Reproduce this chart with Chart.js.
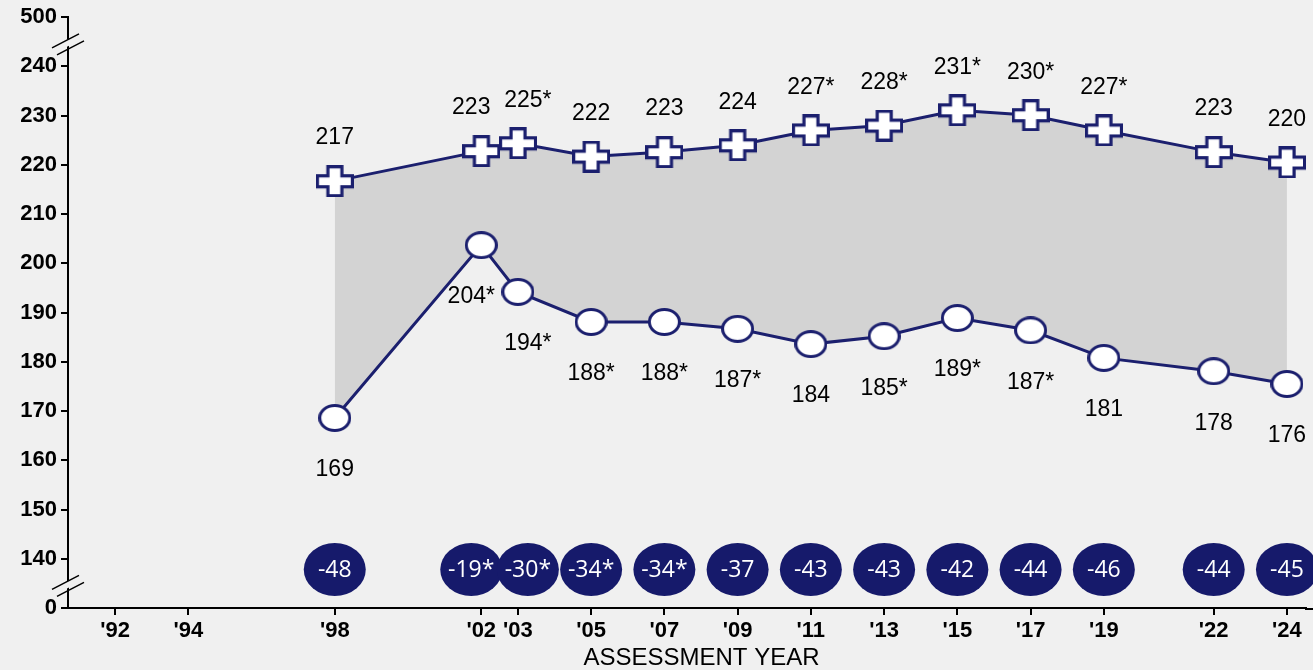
<!DOCTYPE html>
<html>
<head>
<meta charset="utf-8">
<script src="https://cdn.jsdelivr.net/npm/chart.js@4.4.1/dist/chart.umd.min.js"></script>
<style>
  html, body { margin: 0; padding: 0; background: #f0f0f0; }
</style>
</head>
<body>
<canvas id="chart" width="1313" height="670"></canvas>
<script>
// Assessment years with data and the years shown on the x axis
const years = [1998, 2002, 2003, 2005, 2007, 2009, 2011, 2013, 2015, 2017, 2019, 2022, 2024];
const tickYears = [1992, 1994, 1998, 2002, 2003, 2005, 2007, 2009, 2011, 2013, 2015, 2017, 2019, 2022, 2024];

// Plotted scores and their printed labels
const upperScores = [216.7, 222.8, 224.4, 221.7, 222.6, 224.0, 227.0, 228.0, 231.1, 230.1, 227.0, 222.6, 220.5];
const lowerScores = [168.6, 203.7, 194.2, 188.1, 188.1, 186.7, 183.6, 185.2, 188.9, 186.4, 180.8, 178.1, 175.5];
const upperLabels = ['217', '223', '225*', '222', '223', '224', '227*', '228*', '231*', '230*', '227*', '223', '220'];
const lowerLabels = ['169', '204*', '194*', '188*', '188*', '187*', '184', '185*', '189*', '187*', '181', '178', '176'];

// Score gaps shown in the bubbles along the bottom
const gapLabels = ['-48', '-19*', '-30*', '-34*', '-34*', '-37', '-43', '-43', '-42', '-44', '-46', '-44', '-45'];

const NAVY = '#1b1f6e';
const BUBBLE = '#161a6b';
const FILL = '#d3d3d3';
const BG = '#f0f0f0';

// Build a thick plus marker as an image
function makePlus(w, h, vArm, hArm, lw) {
  const c = document.createElement('canvas');
  c.width = w + lw;
  c.height = h + lw;
  const ctx = c.getContext('2d');
  const x0 = lw / 2, y0 = lw / 2;
  const cx = x0 + w / 2, cy = y0 + h / 2;
  ctx.beginPath();
  ctx.moveTo(cx - vArm / 2, y0);
  ctx.lineTo(cx + vArm / 2, y0);
  ctx.lineTo(cx + vArm / 2, cy - hArm / 2);
  ctx.lineTo(x0 + w, cy - hArm / 2);
  ctx.lineTo(x0 + w, cy + hArm / 2);
  ctx.lineTo(cx + vArm / 2, cy + hArm / 2);
  ctx.lineTo(cx + vArm / 2, y0 + h);
  ctx.lineTo(cx - vArm / 2, y0 + h);
  ctx.lineTo(cx - vArm / 2, cy + hArm / 2);
  ctx.lineTo(x0, cy + hArm / 2);
  ctx.lineTo(x0, cy - hArm / 2);
  ctx.lineTo(cx - vArm / 2, cy - hArm / 2);
  ctx.closePath();
  ctx.fillStyle = '#fff';
  ctx.fill();
  ctx.lineWidth = lw;
  ctx.strokeStyle = NAVY;
  ctx.stroke();
  return c;
}

// Build an oval marker as an image
function makeOval(w, h, lw) {
  const c = document.createElement('canvas');
  c.width = w + lw;
  c.height = h + lw;
  const ctx = c.getContext('2d');
  ctx.beginPath();
  ctx.ellipse(c.width / 2, c.height / 2, w / 2, h / 2, 0, 0, Math.PI * 2);
  ctx.fillStyle = '#fff';
  ctx.fill();
  ctx.lineWidth = lw;
  ctx.strokeStyle = NAVY;
  ctx.stroke();
  return c;
}

const plusImg = makePlus(35, 29, 14, 11, 3.2);
const ovalImg = makeOval(30, 25, 3);

// nudge the crowded 2002/2003 labels apart
const nudge = { 2002: -10, 2003: 10 };

// Labels, gap bubbles, axis title and axis breaks
const annotations = {
  id: 'annotations',
  afterDatasetsDraw(chart) {
    const ctx = chart.ctx;
    const xs = chart.scales.x;
    const ys = chart.scales.y;
    ctx.save();
    ctx.textAlign = 'center';
    ctx.textBaseline = 'middle';
    ctx.font = '23px "Liberation Sans", Arial, sans-serif';
    ctx.fillStyle = '#000';
    years.forEach((yr, i) => {
      const x = xs.getPixelForValue(yr) + (nudge[yr] || 0);
      ctx.fillText(upperLabels[i], x, ys.getPixelForValue(upperScores[i]) - 43);
      ctx.fillText(lowerLabels[i], x, ys.getPixelForValue(lowerScores[i]) + 52);
    });

    // gap bubbles
    const by = ys.getPixelForValue(137.8);
    years.forEach((yr, i) => {
      const x = xs.getPixelForValue(yr) + (nudge[yr] || 0);
      ctx.beginPath();
      ctx.ellipse(x, by, 31, 26.5, 0, 0, Math.PI * 2);
      ctx.fillStyle = BUBBLE;
      ctx.fill();
    });
    ctx.fillStyle = '#fff';
    ctx.font = '23px "Open Sans", "Liberation Sans", sans-serif';
    years.forEach((yr, i) => {
      ctx.fillText(gapLabels[i], xs.getPixelForValue(yr) + (nudge[yr] || 0), by + 1);
    });

    // x axis title
    ctx.fillStyle = '#000';
    ctx.font = '24px "Liberation Sans", Arial, sans-serif';
    ctx.fillText('ASSESSMENT YEAR', (chart.chartArea.left + chart.width) / 2 + 11, chart.chartArea.bottom + 50);
    ctx.restore();
  },
  afterDraw(chart) {
    const ctx = chart.ctx;
    const ys = chart.scales.y;
    const area = chart.chartArea;
    const ax = area.left;
    ctx.save();
    // run the x axis line out to the right edge
    ctx.strokeStyle = '#000';
    ctx.lineWidth = 2;
    ctx.beginPath();
    ctx.moveTo(area.right - 1, area.bottom + 1);
    ctx.lineTo(chart.width, area.bottom + 1);
    ctx.stroke();

    const breaks = [(ys.getPixelForValue(250) + ys.getPixelForValue(240)) / 2,
                    (ys.getPixelForValue(140) + ys.getPixelForValue(130)) / 2];
    breaks.forEach(cy => {
      // clear the axis between the two slashes
      ctx.beginPath();
      ctx.moveTo(ax - 13, cy + 4);
      ctx.lineTo(ax + 13, cy - 9);
      ctx.lineTo(ax + 13, cy - 2);
      ctx.lineTo(ax - 13, cy + 11);
      ctx.closePath();
      ctx.fillStyle = BG;
      ctx.fill();
      ctx.strokeStyle = '#000';
      ctx.lineWidth = 1.5;
      ctx.beginPath();
      ctx.moveTo(ax - 16, cy + 6);
      ctx.lineTo(ax + 11, cy - 8);
      ctx.moveTo(ax - 11, cy + 13);
      ctx.lineTo(ax + 16, cy - 1);
      ctx.stroke();
    });
    ctx.restore();
  }
};

const ctx = document.getElementById('chart').getContext('2d');

new Chart(ctx, {
  type: 'line',
  data: {
    datasets: [
      {
        label: 'upper',
        data: years.map((yr, i) => ({ x: yr, y: upperScores[i] })),
        borderColor: NAVY,
        borderWidth: 3,
        backgroundColor: FILL,
        fill: '+1',
        tension: 0,
        pointStyle: plusImg,
        clip: false,
        order: 2
      },
      {
        label: 'lower',
        data: years.map((yr, i) => ({ x: yr, y: lowerScores[i] })),
        borderColor: NAVY,
        borderWidth: 3,
        fill: false,
        tension: 0,
        pointStyle: ovalImg,
        clip: false,
        order: 1
      }
    ]
  },
  options: {
    responsive: false,
    animation: false,
    layout: { padding: { top: 17, right: 0, left: 0, bottom: 0 } },
    plugins: {
      legend: { display: false },
      tooltip: { enabled: false }
    },
    scales: {
      x: {
        type: 'linear',
        min: 1990.716,
        max: 2024.52,
        afterBuildTicks(scale) {
          scale.ticks = tickYears.map(v => ({ value: v }));
        },
        afterFit(scale) { scale.height = 62; },
        ticks: {
          autoSkip: false,
          maxRotation: 0,
          padding: 3,
          color: '#000',
          font: { family: '"Liberation Sans", Arial, sans-serif', size: 22, weight: 'bold' },
          callback: v => "'" + String(v).slice(2)
        },
        grid: { drawOnChartArea: false, drawTicks: true, tickLength: 7, color: '#000', lineWidth: 2 },
        border: { color: '#000', width: 2 }
      },
      y: {
        min: 130,
        max: 250,
        afterFit(scale) { scale.width = 68; },
        ticks: {
          stepSize: 10,
          padding: 4,
          color: '#000',
          font: { family: '"Liberation Sans", Arial, sans-serif', size: 22, weight: 'bold' },
          callback: v => v === 250 ? '500' : (v === 130 ? '0' : String(v))
        },
        grid: { drawOnChartArea: false, drawTicks: true, tickLength: 7, color: '#000', lineWidth: 2 },
        border: { color: '#000', width: 2 }
      }
    }
  },
  plugins: [annotations]
});
</script>
</body>
</html>
